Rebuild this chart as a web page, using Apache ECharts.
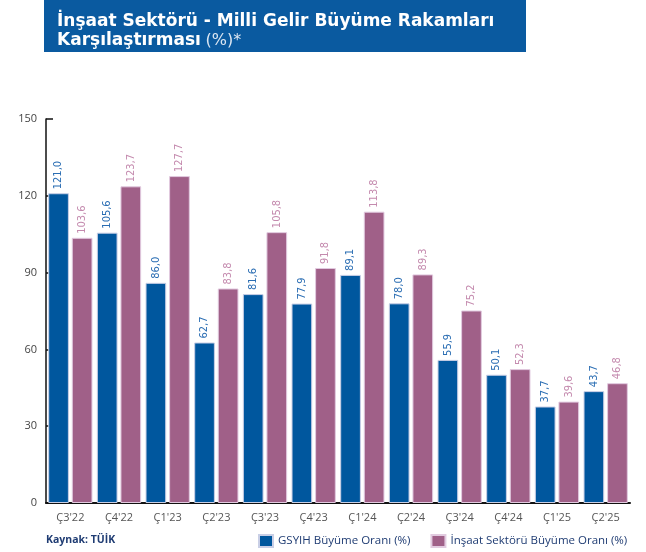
<!DOCTYPE html>
<html>
<head>
<meta charset="utf-8">
<script src="https://cdn.jsdelivr.net/npm/echarts@6/dist/echarts.min.js"></script>
<style>
  html, body { margin: 0; padding: 0; background: #fff; }
  #chart { width: 646px; height: 552px; }
</style>
</head>
<body>
<div id="chart"></div>
<script>
var categories = ["Ç3'22", "Ç4'22", "Ç1'23", "Ç2'23", "Ç3'23", "Ç4'23", "Ç1'24", "Ç2'24", "Ç3'24", "Ç4'24", "Ç1'25", "Ç2'25"]
var gsyihValues = [121.0, 105.6, 86.0, 62.7, 81.6, 77.9, 89.1, 78.0, 55.9, 50.1, 37.7, 43.7]
var insaatValues = [103.6, 123.7, 127.7, 83.8, 105.8, 91.8, 113.8, 89.3, 75.2, 52.3, 39.6, 46.8]
var yTicks = [0, 30, 60, 90, 120, 150]

var chart = echarts.init(document.getElementById('chart'))

var labelFont = '"DejaVu Sans Condensed", "Liberation Sans Narrow", Roboto, sans-serif'

function fmt(p) {
  return p.value.toFixed(1).replace('.', ',')
}

var option = {
  animation: false,
  textStyle: { fontFamily: 'Open Sans' },
  graphic: [
    {
      // mavi başlık bandı
      type: 'rect',
      left: 44, top: 0,
      shape: { width: 482, height: 52 },
      style: { fill: '#0a5aa0' }
    },
    {
      type: 'text',
      left: 46, top: 535,
      style: { text: 'Kaynak: TÜİK', fill: '#1f3c73', font: 'bold 10.5px "Open Sans"' }
    }
  ],
  title: {
    left: 52, top: 7,
    text: '{b|İnşaat Sektörü - Milli Gelir Büyüme Rakamları}\n{b|Karşılaştırması} {l|(%)*}',
    textStyle: {
      rich: {
        b: { color: '#fff', fontSize: 17, fontWeight: 'bold', fontFamily: 'DejaVu Sans', lineHeight: 19 },
        l: { color: '#dbe6f2', fontSize: 16, fontWeight: 'normal', fontFamily: 'DejaVu Sans', lineHeight: 19 }
      }
    }
  },
  legend: {
    left: 258, top: 534, padding: 0,
    itemWidth: 14, itemHeight: 12, itemGap: 20,
    icon: 'rect',
    textStyle: { fontSize: 11.5, color: '#1f3c73', fontFamily: 'Open Sans' },
    data: ['GSYIH Büyüme Oranı (%)', 'İnşaat Sektörü Büyüme Oranı (%)']
  },
  grid: { left: 46, right: 16, top: 119, bottom: 49 },
  xAxis: {
    type: 'category',
    data: categories,
    axisLine: { lineStyle: { color: '#111', width: 2 } },
    axisTick: { show: false },
    axisLabel: { color: '#555', fontSize: 11, margin: 9 }
  },
  yAxis: {
    type: 'value',
    min: 0, max: 150, interval: 30,
    axisLine: { show: true, lineStyle: { color: '#111', width: 1.5 } },
    axisTick: { show: true, inside: true, length: 7, lineStyle: { color: '#111', width: 1.5 } },
    axisLabel: { color: '#444', fontSize: 11, margin: 9 },
    splitLine: { show: false }
  },
  series: [
    {
      name: 'GSYIH Büyüme Oranı (%)',
      type: 'bar',
      data: gsyihValues,
      barGap: '14%',
      barCategoryGap: '9%',
      itemStyle: { color: '#00579e', borderColor: '#c9cfe6', borderWidth: 1 },
      label: {
        show: true, position: 'top', rotate: 90, align: 'left', verticalAlign: 'middle',
        distance: 4, formatter: fmt, color: '#2a6db3', fontSize: 11,
        fontFamily: labelFont
      }
    },
    {
      name: 'İnşaat Sektörü Büyüme Oranı (%)',
      type: 'bar',
      data: insaatValues,
      itemStyle: { color: '#a06088', borderColor: '#e2cbe0', borderWidth: 1 },
      label: {
        show: true, position: 'top', rotate: 90, align: 'left', verticalAlign: 'middle',
        distance: 4, formatter: fmt, color: '#c48aae', fontSize: 11,
        fontFamily: labelFont
      }
    }
  ]
}
chart.setOption(option)
</script>
</body>
</html>
